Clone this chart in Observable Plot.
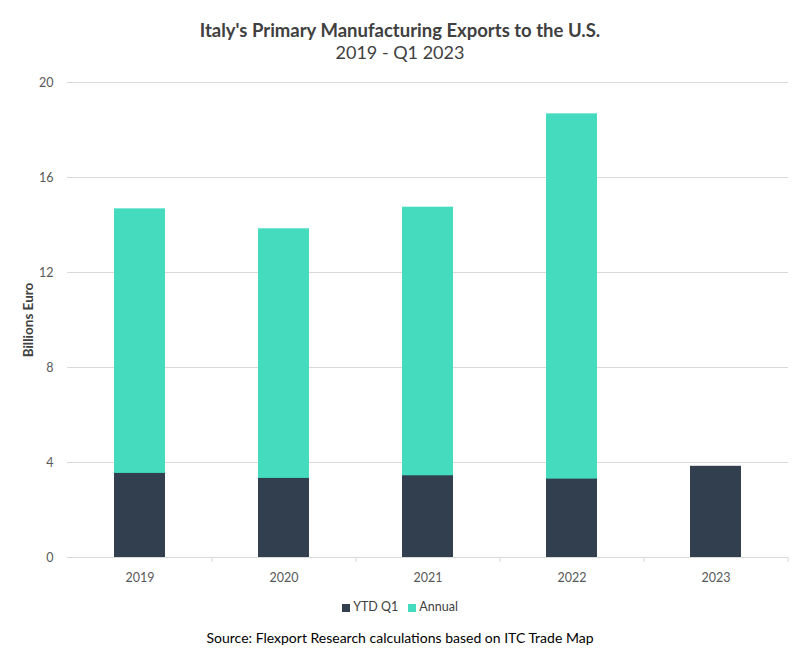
<!DOCTYPE html>
<html>
<head>
<meta charset="utf-8">
<script src="https://cdn.jsdelivr.net/npm/d3@7"></script>
<script src="https://cdn.jsdelivr.net/npm/@observablehq/plot@0.6"></script>
<style>
  body { margin: 0; background: #fff; font-family: Lato, "Open Sans", sans-serif; }
  #wrap { width: 800px; }
  .title { text-align: center; font-size: 18.5px; font-weight: bold; color: #404040; padding-top: 19px; line-height: 22px; }
  .subtitle { text-align: center; font-size: 18px; color: #404040; line-height: 22px; height: 29px; }
  .legend { display: flex; justify-content: center; align-items: center; height: 33px; font-size: 12.5px; color: #404040; gap: 10px; }
  .legend span.sw { display: inline-block; width: 8px; height: 8px; margin-right: 3px; vertical-align: middle; }
  .caption { text-align: center; font-size: 14px; color: #000; line-height: 18px; padding-top: 6px; }
  svg [aria-label="y-axis label"] text { font-weight: bold; fill: #404040; font-size: 13.5px; }
</style>
</head>
<body>
<div id="wrap">
  <div class="title">Italy's Primary Manufacturing Exports to the U.S.</div>
  <div class="subtitle">2019 - Q1 2023</div>
  <div id="chart"></div>
  <div class="legend" id="legend"></div>
  <div class="caption">Source: Flexport Research calculations based on ITC Trade Map</div>
</div>
<script>
// Data (billions of euro)
const years = ["2019", "2020", "2021", "2022", "2023"];
const ytdQ1 = [3.54, 3.33, 3.44, 3.30, 3.84];
const annual = [14.68, 13.84, 14.75, 18.68, null];
const seriesNames = ["YTD Q1", "Annual"];
const seriesColors = ["#323f4f", "#44dbbf"];
const yTicks = [0, 4, 8, 12, 16, 20];

const annualRows = years.map((y, i) => ({year: y, value: annual[i]})).filter(d => d.value != null);
const ytdRows = years.map((y, i) => ({year: y, value: ytdQ1[i]}));

const W = 800, mL = 67, mR = 12;
const step = (W - mL - mR) / years.length;

const chart = Plot.plot({
  width: W,
  height: 520,
  marginTop: 12,
  marginBottom: 33,
  marginLeft: mL,
  marginRight: mR,
  style: {fontFamily: "Lato, 'Open Sans', sans-serif", fontSize: "12.5px", color: "#595959"},
  x: {domain: years, paddingInner: 0.646, paddingOuter: 0.323},
  y: {domain: [0, 20]},
  marks: [
    Plot.gridY(yTicks, {stroke: "#d9d9d9", strokeOpacity: 1}),
    Plot.barY(annualRows, {x: "year", y: "value", fill: seriesColors[1]}),
    Plot.barY(ytdRows, {x: "year", y: "value", fill: seriesColors[0]}),
    Plot.ruleY([0], {stroke: "#d9d9d9", strokeWidth: 1}),
    Plot.axisY({ticks: yTicks, tickSize: 0, tickPadding: 14, label: "Billions Euro", labelAnchor: "center", labelArrow: "none", labelOffset: 44, fontSize: 12.5, fill: "#595959"}),
    Plot.axisX({tickSize: 0, tickPadding: 16, label: null, fontSize: 12.5, fill: "#595959"}),
    Plot.axisX({tickSize: 5, text: null, label: null, dx: step / 2, stroke: "#d9d9d9"})
  ]
});
document.getElementById("chart").appendChild(chart);

const legend = document.getElementById("legend");
seriesNames.forEach((n, i) => {
  const item = document.createElement("div");
  item.innerHTML = `<span class="sw" style="background:${seriesColors[i]}"></span>${n}`;
  legend.appendChild(item);
});
</script>
</body>
</html>
